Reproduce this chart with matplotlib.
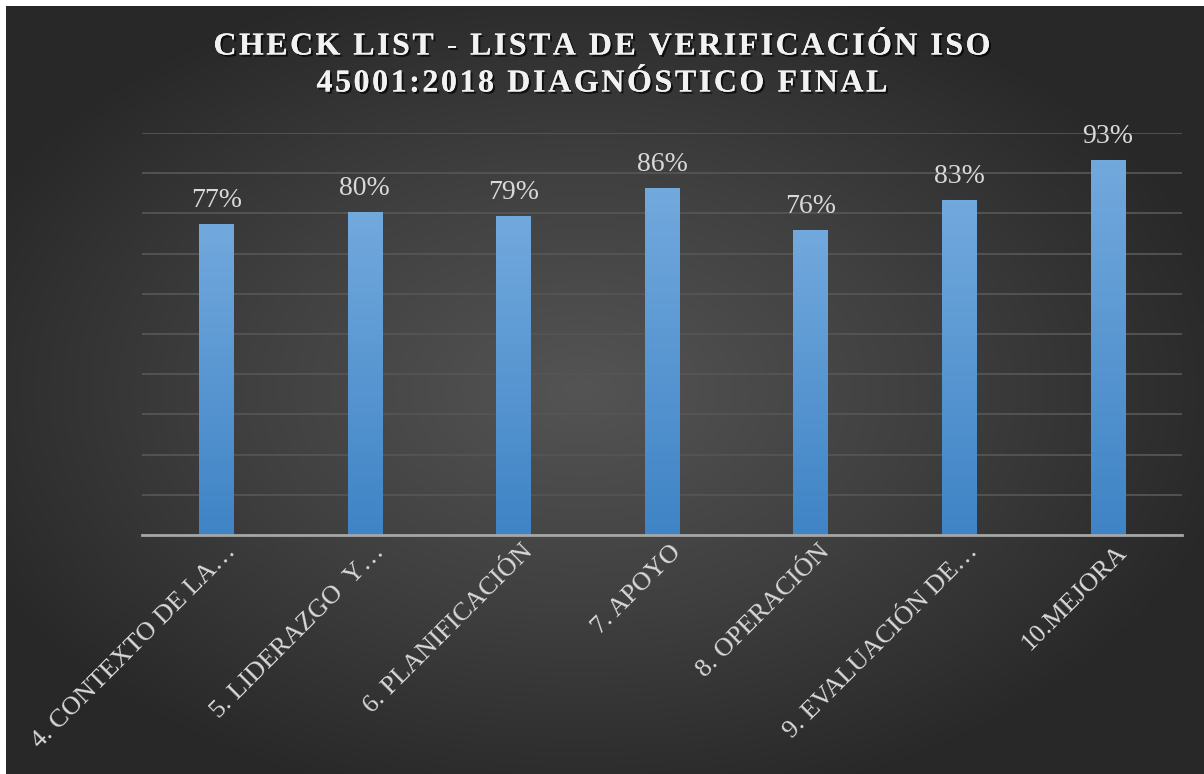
import numpy as np
import matplotlib.pyplot as plt
import matplotlib.patheffects as pe
import matplotlib.transforms as mtransforms
from matplotlib.colors import LinearSegmentedColormap

categories = ["4. CONTEXTO DE LA…", "5. LIDERAZGO  Y…", "6. PLANIFICACIÓN", "7. APOYO",
              "8. OPERACIÓN", "9. EVALUACIÓN DE…", "10.MEJORA"]
values = [0.774, 0.803, 0.794, 0.863, 0.759, 0.833, 0.933]
title_lines = ["CHECK LIST - LISTA DE VERIFICACIÓN ISO", "45001:2018 DIAGNÓSTICO FINAL"]

plt.rcParams['font.family'] = ['Liberation Serif', 'DejaVu Serif']

W, H = 1204, 774
fig = plt.figure(figsize=(W / 100, H / 100), dpi=100, facecolor='white')

# dark radial background
bg = fig.add_axes([6 / W, 0, 1 - 6 / W, 1 - 6 / H])
bg.set_axis_off()
yy, xx = np.mgrid[0:1:300j, 0:1:470j]
r = np.sqrt(((xx - 0.48) / 0.75) ** 2 + ((yy - 0.5) / 0.75) ** 2)
bg_cmap = LinearSegmentedColormap.from_list("bg", ["#545454", "#404040", "#282828"])
bg.imshow(r, cmap=bg_cmap, aspect='auto', extent=[0, 1, 0, 1], vmin=0, vmax=0.75)
bg.set_xlim(0, 1)
bg.set_ylim(0, 1)

ax = fig.add_axes([142 / W, 1 - 535 / H, 1040 / W, 402 / H])
ax.patch.set_alpha(0)
x = np.arange(len(categories))
bars = ax.bar(x, values, width=0.23, color="#5b9bd5", zorder=3)

bar_cmap = LinearSegmentedColormap.from_list("bar", ["#3f84c6", "#72a9dd"])
grad = np.linspace(0, 1, 100).reshape(-1, 1)
for b in bars:
    im = ax.imshow(grad, cmap=bar_cmap, aspect='auto', origin='lower', zorder=4,
                   extent=[b.get_x(), b.get_x() + b.get_width(), 0, b.get_height()])
    im.set_clip_path(b)

ax.set_xlim(-0.5, len(categories) - 0.5)
ax.set_ylim(0, 1)
ax.set_yticks(np.arange(0, 1.01, 0.1))
ax.yaxis.grid(True, color="#555555", lw=1.3, zorder=0)
ax.tick_params(axis='y', length=0, labelleft=False)
ax.tick_params(axis='x', length=0, pad=4)
for s in ['top', 'right', 'left']:
    ax.spines[s].set_visible(False)
ax.spines['bottom'].set_color("#a6a6a6")
ax.spines['bottom'].set_linewidth(2)
ax.spines['bottom'].set_zorder(5)

ax.set_xticks(x)
ax.set_xticklabels(categories, rotation=45, ha='right', rotation_mode='anchor',
                   fontsize=19, color="#d9d9d9")
shift = mtransforms.ScaledTranslation(8 / 100, 0, fig.dpi_scale_trans)
for lbl in ax.get_xticklabels():
    lbl.set_transform(lbl.get_transform() + shift)

for xi, v in zip(x, values):
    ax.annotate(f"{round(v * 100):.0f}%", (xi, v), xytext=(0, 8), textcoords='offset points',
                ha='center', va='bottom', fontsize=20, color="#d9d9d9")

# title with letter spacing, drawn glyph by glyph
shadow = [pe.withSimplePatchShadow(offset=(1.5, -1.5), shadow_rgbFace='black', alpha=0.7), pe.Normal()]
renderer = fig.canvas.get_renderer()
line_specs = [(title_lines[0], 47, 777), (title_lines[1], 84, 571)]
for text, yc, target in line_specs:
    widths = []
    for ch in text:
        t = fig.text(0, 0, ch.replace(" ", "\u00a0"), fontsize=23, fontweight='bold')
        widths.append(t.get_window_extent(renderer).width)
        t.remove()
    gap = (target - sum(widths)) / (len(text) - 1)
    xpos = (W - target) / 2
    for ch, w in zip(text, widths):
        if ch != " ":
            fig.text(xpos / W, 1 - yc / H, ch, fontsize=23, fontweight='bold',
                     color="#f2f2f2", ha='left', va='center', path_effects=shadow)
        xpos += w + gap

fig.savefig("out.png", dpi=100, facecolor=fig.get_facecolor())
